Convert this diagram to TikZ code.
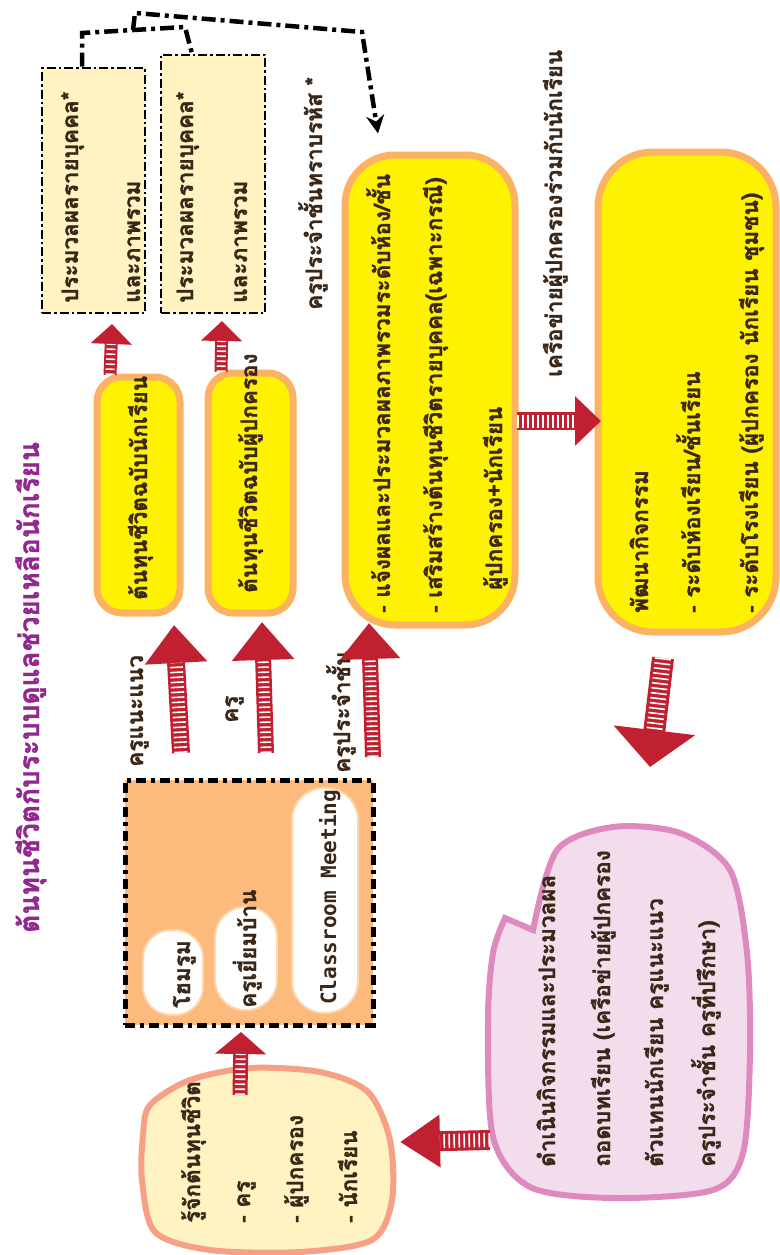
\documentclass[tikz,border=0pt]{standalone}
\usepackage{fontspec}
\newfontfamily\thai[Script=Thai, BoldFeatures={FakeBold=1.2}]{Loma}
\setmonofont{DejaVu Sans Mono}
\usetikzlibrary{arrows.meta,decorations.pathmorphing}
\definecolor{tbrown}{HTML}{3B2718}
\definecolor{ared}{HTML}{C0202F}
\definecolor{yfill}{HTML}{FFF200}
\definecolor{yedge}{HTML}{FBB263}
\definecolor{pale}{HTML}{FFF4C1}
\definecolor{ofill}{HTML}{FCBA7C}
\definecolor{pedge}{HTML}{FDD6AD}
\definecolor{pinkfill}{HTML}{F3DCEB}
\definecolor{pinkedge}{HTML}{DE8ABF}
\definecolor{blobedge}{HTML}{F6A186}
\definecolor{titlec}{HTML}{92278F}
\tikzset{
  tx/.style={rotate=90, anchor=base west, inner sep=0pt, text=tbrown,
    font=\thai\bfseries\fontsize{22.5}{26}\selectfont},
  rough/.style={sharp corners, decorate, decoration={random steps, segment length=6pt, amplitude=1.3pt}},
  ybox/.style={draw=yedge, line width=7pt, fill=yfill, rounded corners=#1,
    postaction={draw=yedge, line width=2.5pt, rough}},
  ddbox/.style={draw=black, line width=2.5pt, fill=pale,
    dash pattern=on 9pt off 3pt on 2.5pt off 3pt},
  pill/.style={draw=pedge, line width=2pt, fill=white, rounded corners=#1},
  conn/.style={draw=black, line width=4.5pt,
    dash pattern=on 14pt off 5pt on 4pt off 5pt},
  fat/.style n args={4}{draw=ared, line width=#1,
    -{Triangle[length=#3,width=#2]},
    postaction={draw=white, line width=#4, -, shorten >=#3,
      dash pattern=on 1.6pt off 3.4pt}},
}
\begin{document}
\begin{tikzpicture}[x=1pt,y=-1pt]
\useasboundingbox (0,0) rectangle (779,1255);

% title
\node[tx, text=titlec, font=\thai\bfseries\fontsize{28}{32}\selectfont] (title) at (39,933) {ต้นทุนชีวิตกับระบบดูแลช่วยเหลือนักเรียน};

% dash-dot boxes
\node[ddbox, minimum width=103pt, minimum height=245pt] (box1) at (93.5,190.5) {};
\node[ddbox, minimum width=104pt, minimum height=258pt] (box2) at (213,184) {};
\node[tx] (b1a) at (78,303) {ประมวลผลรายบุคคล*};
\node[tx] (b1b) at (140,303) {และภาพรวม};
\node[tx] (b2a) at (193,303) {ประมวลผลรายบุคคล*};
\node[tx] (b2b) at (247,303) {และภาพรวม};

\node[tx] (note) at (322,310) {ครูประจำชั้นทราบรหัส *};

% big yellow box
\node[ybox=50pt, minimum width=170pt, minimum height=470pt] (big) at (430,390) {};
\node[tx] (g1) at (390,613) {- แจ้งผลและประมวลผลภาพรวมระดับห้อง/ชั้น};
\node[tx] (g2) at (442,613) {- เสริมสร้างต้นทุนชีวิตรายบุคคล(เฉพาะกรณี)};
\node[tx] (g3) at (502,590) {ผู้ปกครอง+นักเรียน};

% connectors top
\coordinate (j1) at (82,33);
\coordinate (j2) at (185,27);
\coordinate (j3) at (133,30);
\coordinate (k1) at (135,13);
\coordinate (k2) at (362,32);
\draw[conn] ([xshift=-11.5pt]box1.north) -- (j1) -- (j2) -- ([xshift=-21pt]box2.north);
\draw[conn, -{Stealth[length=18pt,width=18pt]}] (j3) -- (k1) -- (k2) -- ([xshift=-52pt,yshift=18pt]big.north);

\node[tx] (net) at (562,377) {เครือข่ายผู้ปกครองร่วมกับนักเรียน};

% right yellow box
\node[ybox=55pt, minimum width=178pt, minimum height=480pt] (rbox) at (687,392) {};
\node[tx] (r1) at (648,613) {พัฒนากิจกรรม};
\node[tx] (r2) at (700,613) {- ระดับห้องเรียน/ชั้นเรียน};
\node[tx] (r3) at (758,613) {- ระดับโรงเรียน (ผู้ปกครอง นักเรียน ชุมชน)};

% small yellow boxes
\node[ybox=25pt, minimum width=83pt, minimum height=236pt] (sa) at (138.5,495) {};
\node[ybox=25pt, minimum width=85pt, minimum height=240pt] (sb) at (250.5,493) {};
\node[tx] (sat) at (147,600) {ต้นทุนชีวิตฉบับนักเรียน};
\node[tx] (sbt) at (257,593) {ต้นทุนชีวิตฉบับผู้ปกครอง};

% orange box
\node[draw=black, line width=5pt, fill=ofill, dash pattern=on 10pt off 5pt on 4pt off 5pt,
  minimum width=248pt, minimum height=245pt] (obox) at (249,902.5) {};
\node[pill=28pt, minimum width=60pt, minimum height=85pt] (p1) at (173,972.5) {};
\node[pill=30pt, minimum width=62pt, minimum height=103pt] (p2) at (246,958.5) {};
\node[pill=32pt, minimum width=66pt, minimum height=225pt] (p3) at (325,900.5) {};
\node[tx] (p1t) at (190,1008) {โฮมรูม};
\node[tx] (p2t) at (256,1008) {ครูเยี่ยมบ้าน};
\node[tx, font=\ttfamily\bfseries\fontsize{21}{24}\selectfont] (p3t) at (336,1005) {Classroom Meeting};

% arrow labels
\node[tx] (l1) at (143,767) {ครูแนะแนว};
\node[tx] (l2) at (238,723) {ครู};
\node[tx] (l3) at (350,773) {ครูประจำชั้น};

% yellow blob
\draw[draw=blobedge, line width=6pt, fill=pale] plot[smooth cycle] coordinates
  {(150,1105) (190,1080) (250,1068) (320,1072) (368,1092) (390,1140) (392,1200)
   (372,1240) (300,1252) (210,1250) (155,1232) (142,1180) (143,1135)};
\node[tx] (y1) at (200,1223) {รู้จักต้นทุนชีวิต};
\node[tx] (y2) at (250,1223) {- ครู};
\node[tx] (y3) at (303,1223) {- ผู้ปกครอง};
\node[tx] (y4) at (357,1223) {- นักเรียน};

% pink blob
\draw[draw=pinkedge, line width=6pt, fill=pinkfill] plot[smooth] coordinates
  {(533,930) (557,850) (613,827) (680,833) (730,870) (747,953) (750,1053)
   (743,1153) (713,1190) (613,1198) (530,1187) (493,1137) (488,1020) (493,953) (505,918)} -- cycle;
\node[tx] (k1t) at (555,1167) {ดำเนินกิจกรรมและประมวลผล};
\node[tx] (k2t) at (610,1167) {ถอดบทเรียน (เครือข่ายผู้ปกครอง};
\node[tx] (k3t) at (663,1167) {ตัวแทนนักเรียน ครูแนะแนว};
\node[tx] (k4t) at (715,1167) {ครูประจำชั้น ครูที่ปรึกษา)};

% red arrows
\coordinate (a1s) at (110,375); \coordinate (a1e) at (112,324);
\coordinate (a2s) at (221,372); \coordinate (a2e) at (222,321);
\coordinate (u1s) at (181,753); \coordinate (u1e) at (174,625);
\coordinate (u2s) at (266,753); \coordinate (u2e) at (262,622);
\coordinate (u3s) at (373,757); \coordinate (u3e) at (369,623);
\coordinate (rs) at (517,421); \coordinate (re) at (601,421);
\coordinate (ds) at (663,658); \coordinate (de) at (650,767);
\coordinate (ls) at (490,1140); \coordinate (le) at (400,1142);
\coordinate (bs) at (240,1095); \coordinate (be) at (241,1032);
\draw[fat={13pt}{40pt}{20pt}{9pt}] (a1s) -- (a1e);
\draw[fat={13pt}{40pt}{20pt}{9pt}] (a2s) -- (a2e);
\draw[fat={18pt}{60pt}{38pt}{13pt}] (u1s) -- (u1e);
\draw[fat={16pt}{60pt}{38pt}{11pt}] (u2s) -- (u2e);
\draw[fat={16pt}{58pt}{36pt}{11pt}] (u3s) -- (u3e);
\draw[fat={18pt}{48pt}{26pt}{13pt}] (rs) -- (re);
\draw[fat={22pt}{80pt}{37pt}{16pt}] (ds) -- (de);
\draw[fat={20pt}{50pt}{40pt}{14pt}] (ls) -- (le);
\draw[fat={15pt}{50pt}{22pt}{10pt}] (bs) -- (be);
\end{tikzpicture}
\end{document}
